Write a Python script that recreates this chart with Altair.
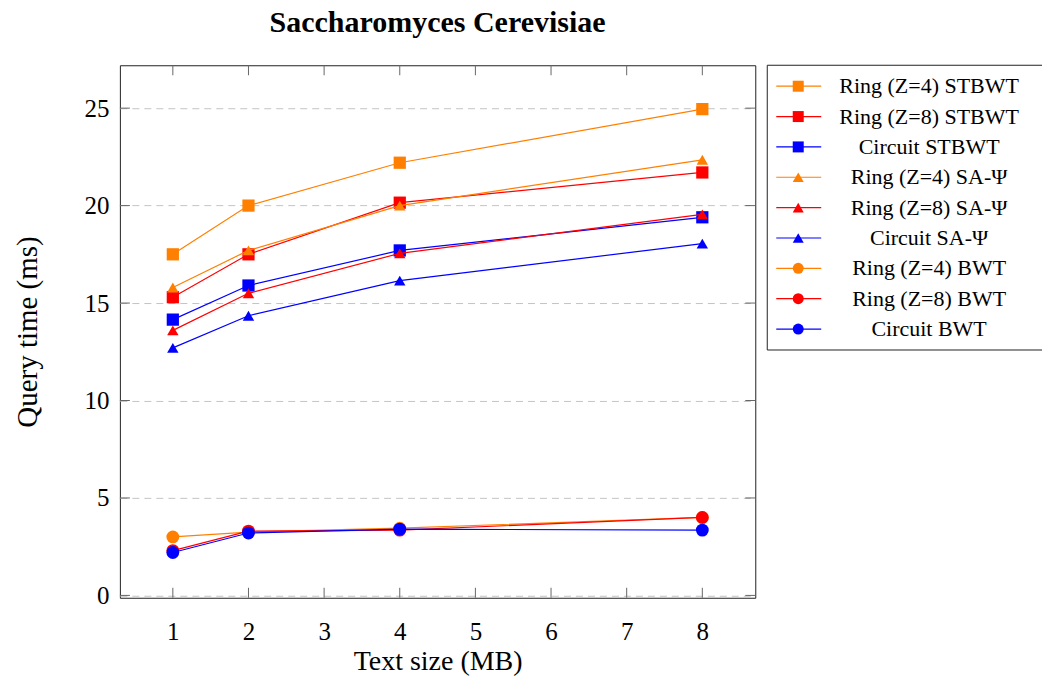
import altair as alt
import pandas as pd

# Text sizes (MB) at which the query times were measured
sizes_mb = [1, 2, 4, 8]

series_names = [
    "Ring (Z=4) STBWT", "Ring (Z=8) STBWT", "Circuit STBWT",
    "Ring (Z=4) SA-Ψ", "Ring (Z=8) SA-Ψ", "Circuit SA-Ψ",
    "Ring (Z=4) BWT", "Ring (Z=8) BWT", "Circuit BWT",
]

# Query times (ms)
ring4_stbwt = [17.5, 20.0, 22.2, 24.95]
ring8_stbwt = [15.3, 17.5, 20.15, 21.7]
circuit_stbwt = [14.15, 15.9, 17.7, 19.4]
ring4_sapsi = [15.8, 17.7, 20.0, 22.35]
ring8_sapsi = [13.6, 15.5, 17.55, 19.55]
circuit_sapsi = [12.7, 14.35, 16.15, 18.05]
ring4_bwt = [3.0, 3.25, 3.45, 4.0]
ring8_bwt = [2.3, 3.3, 3.35, 4.0]
circuit_bwt = [2.2, 3.2, 3.4, 3.35]

series_values = [
    ring4_stbwt, ring8_stbwt, circuit_stbwt,
    ring4_sapsi, ring8_sapsi, circuit_sapsi,
    ring4_bwt, ring8_bwt, circuit_bwt,
]

series_colors = ["#ff8000", "#ff0000", "#0000ff"] * 3
series_shapes = ["square"] * 3 + ["triangle-up"] * 3 + ["circle"] * 3
plot_sizes = [150] * 3 + [130] * 3 + [165] * 3
legend_sizes = [121] * 3 + [105] * 3 + [125] * 3

x_ticks = [1, 2, 3, 4, 5, 6, 7, 8]
y_ticks = [0, 5, 10, 15, 20, 25]

FONT = "Liberation Serif"
W, H = 636, 533
LW, LH = 275, 285

rows = []
for name, vals in zip(series_names, series_values):
    for s, v in zip(sizes_mb, vals):
        rows.append({"series": name, "size": s, "time": v})
df = pd.DataFrame(rows)

x_scale = alt.Scale(domain=[0.3, 8.7], nice=False, zero=False)
y_scale = alt.Scale(domain=[-0.12, 27.2], nice=False, zero=False)

x_axis = alt.Axis(
    title="Text size (MB)", values=x_ticks, grid=False, domain=False,
    ticks=False, tickSize=0, labelPadding=22, labelFont=FONT, labelFontSize=25,
    labelColor="black", titleFont=FONT, titleFontSize=28, titleFontWeight="normal",
    titleColor="black", titleBaseline="alphabetic", titleY=72,
)
y_axis = alt.Axis(
    title="Query time (ms)", values=y_ticks, grid=True, gridColor="#c4c4c4",
    gridDash=[7, 5], gridWidth=1, domain=False, ticks=False, tickSize=0,
    labelPadding=11, labelFont=FONT, labelFontSize=25, labelColor="black",
    titleFont=FONT, titleFontSize=29, titleFontWeight="normal", titleColor="black",
    titleBaseline="alphabetic", titleX=-83,
)

x_enc = alt.X("size:Q", scale=x_scale, axis=x_axis)
y_enc = alt.Y("time:Q", scale=y_scale, axis=y_axis)

# Inward tick marks on all four sides of the frame
xt = alt.Chart(pd.DataFrame({"size": x_ticks}))
yt = alt.Chart(pd.DataFrame({"time": y_ticks}))
tick_color = "#666666"
ticks = [
    xt.mark_rule(color=tick_color, strokeWidth=1).encode(x=x_enc, y=alt.value(H - 10), y2=alt.value(H)),
    xt.mark_rule(color=tick_color, strokeWidth=1).encode(x=x_enc, y=alt.value(0), y2=alt.value(10)),
    yt.mark_rule(color=tick_color, strokeWidth=1).encode(y=y_enc, x=alt.value(0), x2=alt.value(10)),
    yt.mark_rule(color=tick_color, strokeWidth=1).encode(y=y_enc, x=alt.value(W - 10), x2=alt.value(W)),
]

# One line plus markers per series, drawn in series order
series_layers = []
for name, color, shape, sz in zip(series_names, series_colors, series_shapes, plot_sizes):
    base = alt.Chart(df).transform_filter(alt.datum.series == name)
    series_layers.append(
        base.mark_line(color=color, strokeWidth=1.2).encode(x=x_enc, y=y_enc)
    )
    series_layers.append(
        base.mark_point(filled=True, shape=shape, size=sz, color=color, opacity=1).encode(x=x_enc, y=y_enc)
    )

main = alt.layer(*ticks, *series_layers).properties(
    width=W,
    height=H,
    title=alt.TitleParams(
        "Saccharomyces Cerevisiae", font=FONT, fontSize=30, fontWeight="bold",
        color="black", anchor="middle", frame="group", baseline="alphabetic", offset=3,
    ),
)

# Legend panel
leg_df = pd.DataFrame({"series": series_names})
leg_y = alt.Y("series:N", sort=series_names, scale=alt.Scale(type="point", padding=0.69), axis=None)
color_enc = alt.Color("series:N", scale=alt.Scale(domain=series_names, range=series_colors), legend=None)
shape_enc = alt.Shape("series:N", scale=alt.Scale(domain=series_names, range=series_shapes), legend=None)
size_enc = alt.Size("series:N", scale=alt.Scale(domain=series_names, range=legend_sizes), legend=None)

leg = alt.Chart(leg_df)
frame = alt.Chart(pd.DataFrame({"k": [0]}))
legend_panel = alt.layer(
    frame.mark_rule(color="#222", strokeWidth=1).encode(x=alt.value(0), x2=alt.value(LW), y=alt.value(0)),
    frame.mark_rule(color="#222", strokeWidth=1).encode(x=alt.value(0), x2=alt.value(LW), y=alt.value(LH)),
    frame.mark_rule(color="#222", strokeWidth=1).encode(x=alt.value(0), y=alt.value(0), y2=alt.value(LH)),
    leg.mark_rule(strokeWidth=1.2).encode(x=alt.value(9), x2=alt.value(54), y=leg_y, color=color_enc),
    leg.mark_point(filled=True, opacity=1).encode(
        x=alt.value(31), y=leg_y, color=color_enc, shape=shape_enc, size=size_enc
    ),
    leg.mark_text(font=FONT, fontSize=22, align="center", baseline="middle", color="black").encode(
        x=alt.value(162), y=leg_y, text="series:N"
    ),
).properties(width=LW, height=LH, view=alt.ViewBackground(stroke=None))

chart = (
    alt.hconcat(main, legend_panel, spacing=10)
    .properties(padding={"left": 13, "top": 7, "right": 0, "bottom": 0}, background="white")
    .configure_view(stroke="#222", strokeWidth=1)
)

chart.save("out.html", embed_options={"renderer": "svg", "actions": False})
